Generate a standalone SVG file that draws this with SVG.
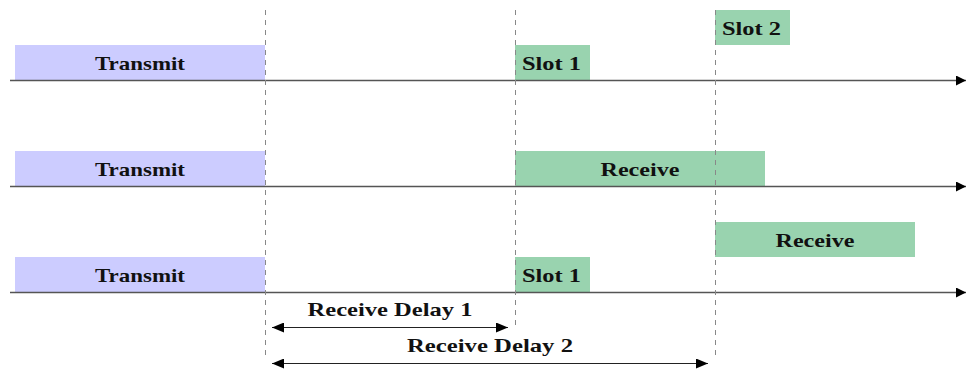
<svg xmlns="http://www.w3.org/2000/svg" width="966" height="369" viewBox="0 0 966 369">
  <style>
    .tx { fill: #ccccff; }
    .rx { fill: #99d3af; }
    .lbl { font-family: "Liberation Serif", "DejaVu Serif", serif; font-weight: bold; font-size: 19.5px; fill: #111; }
    .mid { text-anchor: middle; }
    .axis { stroke: #555; stroke-width: 1.4; fill: none; }
    .guide { stroke: #888; stroke-width: 1; stroke-dasharray: 5 5; fill: none; }
    .dim { stroke: #222; stroke-width: 1.2; fill: none; }
  </style>
  <defs>
    <marker id="tip" viewBox="0 0 10 10" refX="10" refY="5" markerWidth="10" markerHeight="10" markerUnits="userSpaceOnUse" orient="auto">
      <path d="M0,0 L10,5 L0,10 Z" fill="#000"/>
    </marker>
    <marker id="dimEnd" viewBox="0 0 12 10" refX="12" refY="5" markerWidth="12" markerHeight="10" markerUnits="userSpaceOnUse" orient="auto-start-reverse">
      <path d="M0,0 L12,5 L0,10 Z" fill="#000"/>
    </marker>
  </defs>

  <!-- row 1: transmit, then two short receive slots -->
  <g id="row1-transmit">
    <rect class="tx" x="15" y="45" width="250" height="35"/>
    <text class="lbl mid" x="140" y="70" textLength="90" lengthAdjust="spacingAndGlyphs">Transmit</text>
  </g>
  <g id="row1-slot1">
    <rect class="rx" x="515" y="45" width="75" height="35"/>
    <text class="lbl" x="522" y="70" textLength="59" lengthAdjust="spacingAndGlyphs">Slot 1</text>
  </g>
  <g id="row1-slot2">
    <rect class="rx" x="715" y="10" width="75" height="35"/>
    <text class="lbl" x="722" y="35" textLength="59" lengthAdjust="spacingAndGlyphs">Slot 2</text>
  </g>

  <!-- row 2: transmit, then one long receive window -->
  <g id="row2-transmit">
    <rect class="tx" x="15" y="151" width="250" height="35"/>
    <text class="lbl mid" x="140" y="176" textLength="90" lengthAdjust="spacingAndGlyphs">Transmit</text>
  </g>
  <g id="row2-receive">
    <rect class="rx" x="515" y="151" width="250" height="35"/>
    <text class="lbl mid" x="640" y="176" textLength="79" lengthAdjust="spacingAndGlyphs">Receive</text>
  </g>

  <!-- row 3: transmit, slot 1, then receive window -->
  <g id="row3-transmit">
    <rect class="tx" x="15" y="257" width="250" height="35"/>
    <text class="lbl mid" x="140" y="282" textLength="90" lengthAdjust="spacingAndGlyphs">Transmit</text>
  </g>
  <g id="row3-slot1">
    <rect class="rx" x="515" y="257" width="75" height="35"/>
    <text class="lbl" x="522" y="282" textLength="59" lengthAdjust="spacingAndGlyphs">Slot 1</text>
  </g>
  <g id="row3-receive">
    <rect class="rx" x="715" y="222" width="200" height="35"/>
    <text class="lbl mid" x="815" y="247" textLength="79" lengthAdjust="spacingAndGlyphs">Receive</text>
  </g>

  <g id="connectors">
    <!-- time axes -->
    <line class="axis" x1="10" y1="80.5" x2="966" y2="80.5" marker-end="url(#tip)"/>
    <line class="axis" x1="10" y1="186.5" x2="966" y2="186.5" marker-end="url(#tip)"/>
    <line class="axis" x1="10" y1="292.5" x2="966" y2="292.5" marker-end="url(#tip)"/>
    <!-- vertical timing guides -->
    <line class="guide" x1="265.5" y1="10" x2="265.5" y2="355"/>
    <line class="guide" x1="515.5" y1="10" x2="515.5" y2="330"/>
    <line class="guide" x1="715.5" y1="10" x2="715.5" y2="355"/>
    <!-- delay dimensions -->
    <line class="dim" x1="272" y1="327.5" x2="508" y2="327.5" marker-start="url(#dimEnd)" marker-end="url(#dimEnd)"/>
    <line class="dim" x1="272" y1="363.5" x2="708" y2="363.5" marker-start="url(#dimEnd)" marker-end="url(#dimEnd)"/>
  </g>

  <g id="labels">
    <text class="lbl mid" x="390" y="316" textLength="165" lengthAdjust="spacingAndGlyphs">Receive Delay 1</text>
    <text class="lbl mid" x="490" y="352" textLength="166" lengthAdjust="spacingAndGlyphs">Receive Delay 2</text>
  </g>
</svg>
